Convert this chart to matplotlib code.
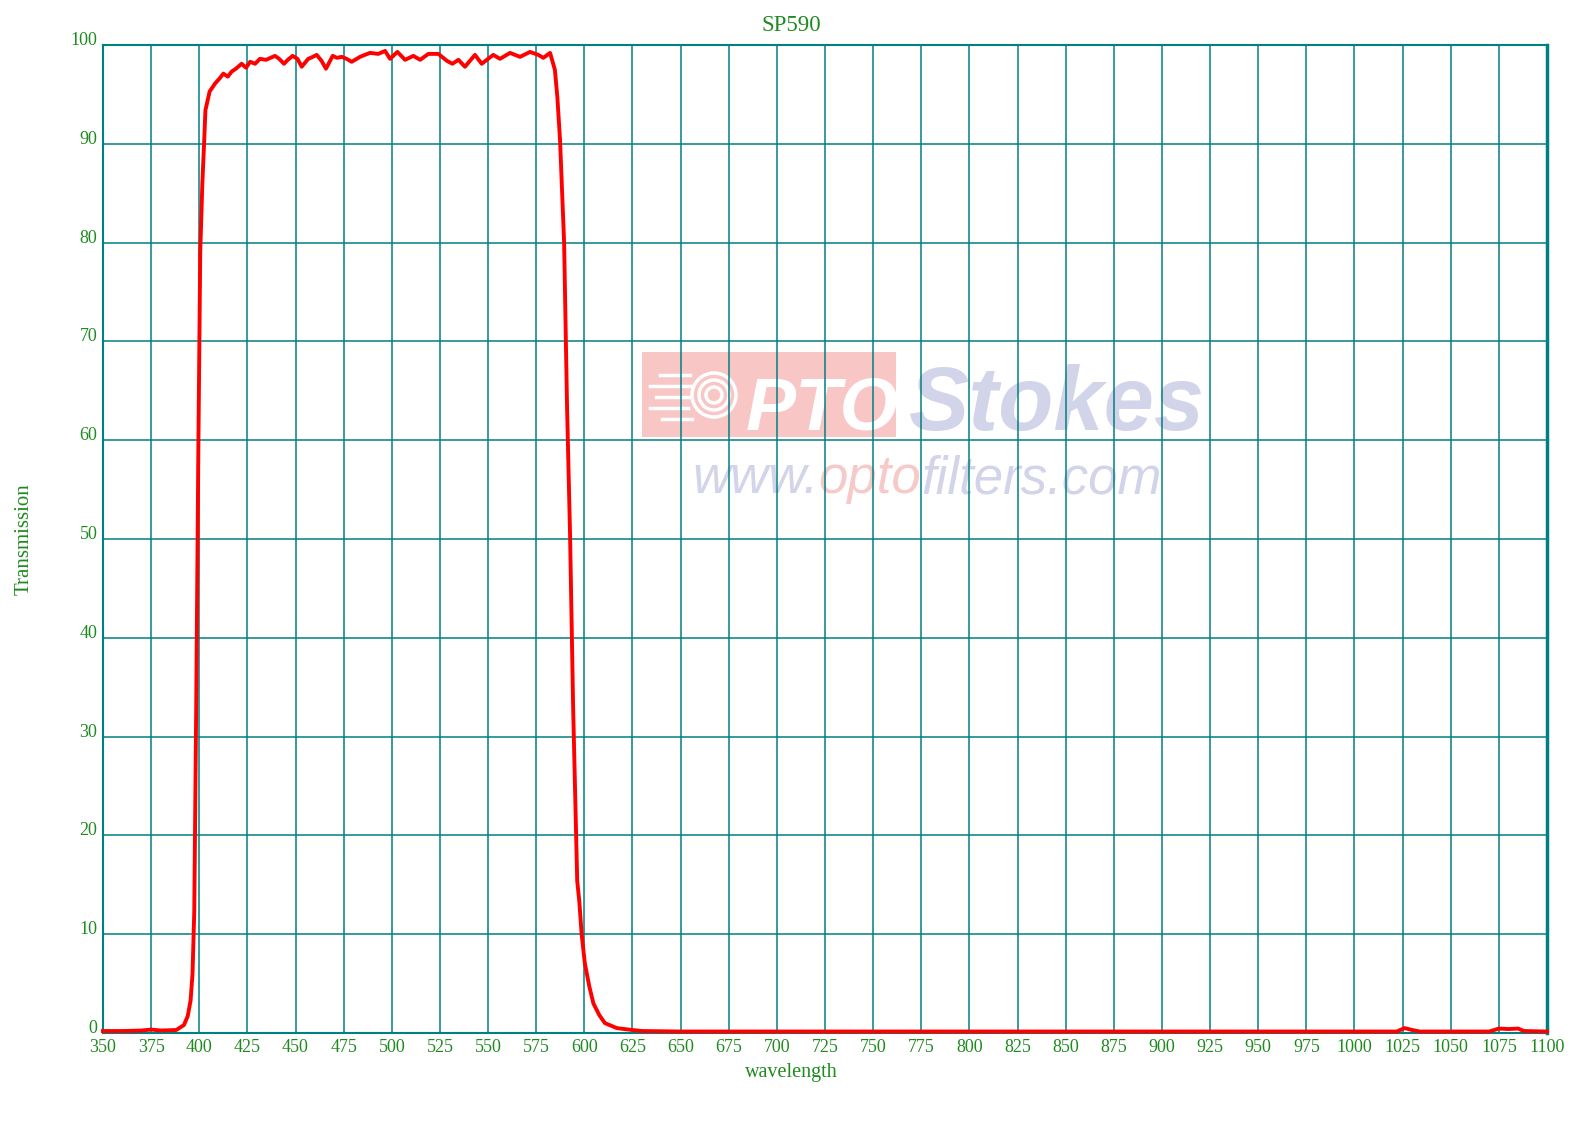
import matplotlib.pyplot as plt
from matplotlib.patches import Rectangle, Ellipse

# transmission curve
wl = [350, 360, 370, 375, 380, 388, 392, 394, 395.5, 396.5, 397.4, 398.4, 399.5,
      400.5, 401.6, 402.5, 403.2, 405.4, 408.2, 410.5, 412.5, 414.8, 416.8, 419,
      422, 424.3, 426.4, 429, 431.5, 434.7, 437, 439.3, 441.5, 444, 446, 448.5,
      451, 453.2, 456.6, 459, 461, 463.5, 465.8, 469.3, 471.5, 474, 476.5, 479.2,
      483.5, 486, 488.7, 493, 496.5, 499.1, 502.9, 506.9, 511.2, 514.7, 519,
      524.2, 528.6, 531.5, 534.6, 538, 543.2, 546.7, 552.7, 556.2, 561.4, 566.6,
      571.8, 576.1, 578.7, 582.2, 584.7, 586, 587.4, 589.5, 591, 592.6, 594.2,
      596.3, 597.4, 598.6, 600.3, 602.6, 604.7, 607.8, 610.7, 616.8, 623.7, 630,
      650, 700, 800, 900, 1000, 1022, 1026, 1030, 1034, 1070, 1075, 1080, 1085,
      1088, 1100]
trans = [0.2, 0.2, 0.25, 0.35, 0.25, 0.3, 0.8, 1.7, 3.3, 6, 12.3, 32.8, 58.5,
         79, 86, 90, 93.4, 95.3, 96.1, 96.6, 97.1, 96.8, 97.3, 97.6,
         98.1, 97.7, 98.3, 98.1, 98.6, 98.5, 98.7, 98.9, 98.6, 98.1, 98.5, 98.9,
         98.6, 97.8, 98.6, 98.8, 99.0, 98.4, 97.6, 98.9, 98.7, 98.8, 98.6, 98.3,
         98.8, 99.0, 99.2, 99.1, 99.4, 98.6, 99.3, 98.5, 98.9, 98.5, 99.1,
         99.1, 98.4, 98.1, 98.5, 97.8, 99.0, 98.1, 99.0, 98.6, 99.2, 98.8,
         99.3, 99.0, 98.7, 99.2, 97.5, 94.7, 90.3, 80, 63.6, 50.3, 32.8,
         15.4, 13.3, 10, 7, 4.7, 3, 1.8, 1.0, 0.5, 0.33, 0.2,
         0.15, 0.15, 0.15, 0.15, 0.15, 0.15, 0.5, 0.3, 0.15, 0.15, 0.45, 0.4, 0.45,
         0.2, 0.15]

xticks = list(range(350, 1101, 25))
yticks = list(range(0, 101, 10))

green = '#1f8a1f'
teal = '#008080'

W, H = 1588, 1125
fig = plt.figure(figsize=(W / 100, H / 100), dpi=100)
ax = fig.add_axes([103 / W, 1 - 1033 / H, 1444 / W, 988 / H])
ax.patch.set_visible(False)

ax.plot(wl, trans, color='#ff0000', linewidth=2.8, zorder=4, clip_on=False)

ax.set_xlim(350, 1100)
ax.set_ylim(0, 100)
ax.set_xticks(xticks)
ax.set_yticks(yticks)
ax.set_xticklabels([str(v) for v in xticks], fontfamily='Liberation Serif', fontsize=13, color=green)
ax.set_yticklabels([str(v) for v in yticks], fontfamily='Liberation Serif', fontsize=13, color=green)
plt.setp(ax.get_yticklabels(), va='baseline')
ax.tick_params(length=0)
ax.tick_params(axis='x', pad=4)
ax.tick_params(axis='y', pad=4)

ax.grid(color=teal, linewidth=1.1, zorder=2)
for s in ax.spines.values():
    s.set_color(teal)
    s.set_linewidth(1.5)
ax.spines['right'].set_linewidth(2.5)

ax.set_title('SP590', fontfamily='Liberation Serif', fontsize=16.5, color=green, pad=10, x=0.477)
ax.set_xlabel('wavelength', fontfamily='Liberation Serif', fontsize=14.5, color=green)
ax.xaxis.set_label_coords(0.477, -0.030)
ax.set_ylabel('Transmission', fontfamily='Liberation Serif', fontsize=15, color=green, va='center')
ax.yaxis.set_label_coords(-0.0545, 0.5)

# watermark
tf = fig.transFigure
ax.add_patch(Rectangle((642 / W, 1 - 437 / H), 254 / W, 85 / H, transform=tf,
                       facecolor='#f9c6c6', edgecolor='none', zorder=0.5, clip_on=False))
for r in [22, 15, 8]:
    ax.add_patch(Ellipse((714 / W, 1 - 395 / H), 2 * r / W, 2 * r / H, transform=tf,
                         facecolor='none', edgecolor='white', linewidth=2.5, zorder=0.6, clip_on=False))
for yy, x0, x1 in [(375, 660, 690), (386, 650, 692), (397, 656, 690), (408, 650, 688), (419, 662, 692)]:
    ax.plot([x0 / W, x1 / W], [1 - yy / H, 1 - yy / H], transform=tf, color='white',
            linewidth=2.5, zorder=0.6, clip_on=False)
ax.text(746 / W, 1 - 430 / H, 'PTO', transform=tf, fontfamily='Liberation Sans', fontsize=54,
        fontweight='bold', fontstyle='italic', color='white', va='baseline', zorder=0.6)
ax.text(909 / W, 1 - 430 / H, 'Stokes', transform=tf, fontfamily='Liberation Sans', fontsize=65,
        fontweight='bold', fontstyle='italic', color='#d2d4ea', va='baseline', zorder=0.6)
t1 = ax.text(692 / W, 1 - 504 / H, 'www.', transform=tf, fontfamily='Liberation Sans', fontsize=38,
             fontstyle='italic', color='#d2d4ea', va='bottom', zorder=0.6)
t2 = ax.annotate('opto', xy=(1, 0), xycoords=t1, fontfamily='Liberation Sans', fontsize=38,
                 fontstyle='italic', color='#f7caca', va='bottom', zorder=0.6)
ax.annotate('filters.com', xy=(1, 0), xycoords=t2, fontfamily='Liberation Sans', fontsize=38,
            fontstyle='italic', color='#d2d4ea', va='bottom', zorder=0.6)

fig.savefig('out.png', dpi=100)
